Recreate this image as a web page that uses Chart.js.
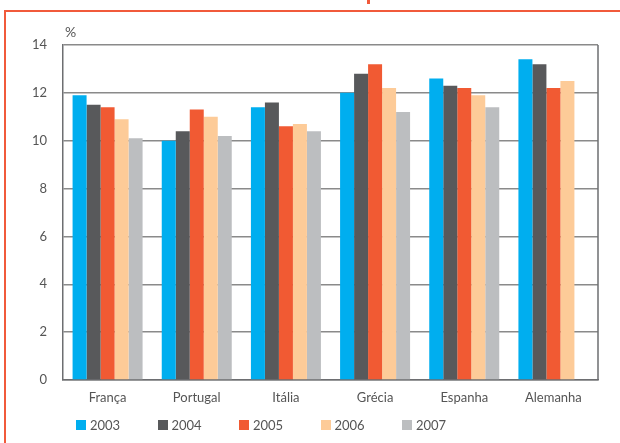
<!DOCTYPE html>
<html>
<head>
<meta charset="utf-8">
<script src="https://cdn.jsdelivr.net/npm/chart.js@4"></script>
<style>
  html, body { margin: 0; padding: 0; background: #fff; }
  #wrap { position: relative; width: 620px; height: 443px; overflow: hidden; }
  #frame { position: absolute; left: 4px; top: 10px; width: 700px; height: 500px;
           border-top: 2px solid #f15a3b; border-left: 2px solid #f15a3b; }
  #cut { position: absolute; left: 367px; top: 0; width: 3px; height: 4px; background: #f15a3b; }
  #chart { position: absolute; left: 0; top: 0; }
  #legend { position: absolute; left: 76px; top: 417px; display: flex;
            font-family: Lato, sans-serif; font-size: 13px; color: #555; }
  #legend .item { width: 81.5px; display: flex; align-items: center; }
  #legend .box { width: 10px; height: 10px; margin-right: 4px; }
</style>
</head>
<body>
<div id="wrap">
  <div id="frame"></div>
  <div id="cut"></div>
  <canvas id="chart" width="620" height="443"></canvas>
  <div id="legend"></div>
</div>
<script>
const paises = ['França', 'Portugal', 'Itália', 'Grécia', 'Espanha', 'Alemanha'];
const anos = ['2003', '2004', '2005', '2006', '2007'];
const v2003 = [11.9, 10.0, 11.4, 12.0, 12.6, 13.4];
const v2004 = [11.5, 10.4, 11.6, 12.8, 12.3, 13.2];
const v2005 = [11.4, 11.3, 10.6, 13.2, 12.2, 12.2];
const v2006 = [10.9, 11.0, 10.7, 12.2, 11.9, 12.5];
const v2007 = [10.1, 10.2, 10.4, 11.2, 11.4, null];
const cores = ['#00aeef', '#58595b', '#f15a33', '#fdcb98', '#bcbec0'];
const yTicks = [0, 2, 4, 6, 8, 10, 12, 14];

const series = [v2003, v2004, v2005, v2006, v2007];

const boxLines = {
    id: 'boxLines',
    afterDraw(chart) {
        const { ctx, chartArea } = chart;
        ctx.save();
        ctx.strokeStyle = '#6d6e71';
        ctx.lineWidth = 1.5;
        ctx.beginPath();
        ctx.moveTo(chartArea.right, chartArea.top);
        ctx.lineTo(chartArea.right, chartArea.bottom);
        ctx.stroke();
        ctx.fillStyle = '#555';
        ctx.font = '14px Lato';
        ctx.textAlign = 'left';
        ctx.textBaseline = 'middle';
        ctx.fillText('%', chartArea.left + 2, 32);
        ctx.restore();
    }
};

const chart = new Chart(document.getElementById('chart'), {
    type: 'bar',
    data: {
        labels: paises,
        datasets: anos.map((ano, i) => ({
            label: ano,
            data: series[i],
            backgroundColor: cores[i],
            borderWidth: 0,
            categoryPercentage: 0.785,
            barPercentage: 1.0
        }))
    },
    options: {
        responsive: false,
        animation: false,
        layout: { padding: { left: 0, right: 22, top: 45, bottom: 33 } },
        plugins: {
            legend: { display: false },
            tooltip: { enabled: false }
        },
        scales: {
            x: {
                grid: { display: false },
                border: { display: true, color: '#6d6e71', width: 1.5 },
                ticks: { padding: 2, color: '#555', font: { family: 'Lato', size: 13 } },
                afterFit(scale) { scale.height = 30; }
            },
            y: {
                min: 0,
                max: 14,
                afterBuildTicks(scale) { scale.ticks = yTicks.map(v => ({ value: v })); },
                grid: { color: '#8a8a8a', lineWidth: 1.5, drawTicks: false },
                border: { display: true, color: '#6d6e71', width: 1.5 },
                ticks: { padding: 16, color: '#555', font: { family: 'Lato', size: 13 } },
                afterFit(scale) { scale.width = 63; }
            }
        }
    },
    plugins: [boxLines]
});

const legend = document.getElementById('legend');
chart.data.datasets.forEach(ds => {
    const item = document.createElement('div');
    item.className = 'item';
    const box = document.createElement('span');
    box.className = 'box';
    box.style.background = ds.backgroundColor;
    item.appendChild(box);
    item.appendChild(document.createTextNode(ds.label));
    legend.appendChild(item);
});
</script>
</body>
</html>
